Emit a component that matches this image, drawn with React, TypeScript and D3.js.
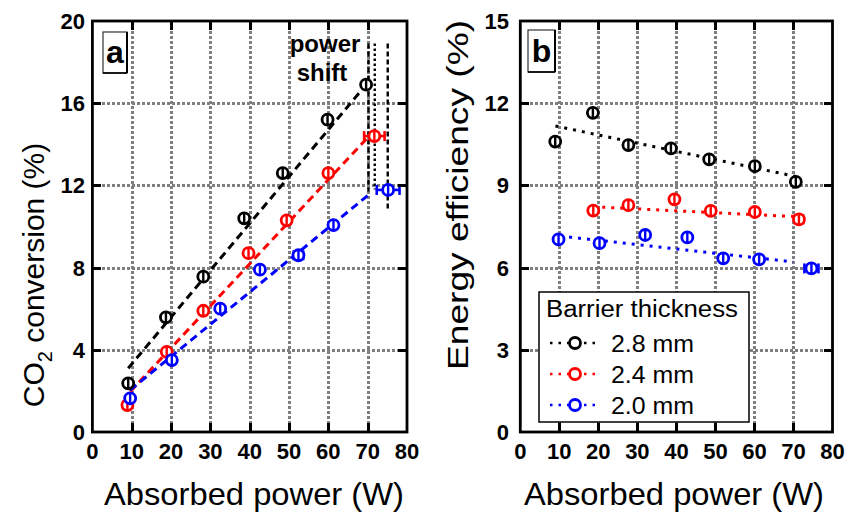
import React from "react";
import * as d3 from "d3";

// ---------- data ----------
const seriesNames = ["2.8 mm", "2.4 mm", "2.0 mm"];
const seriesColors = ["#000000", "#ff0000", "#0000ff"];

// Panel a: CO2 conversion (%)
const powerA28 = [9.1, 18.7, 28.2, 38.6, 48.4, 59.8, 69.6];
const convA28 = [2.37, 5.58, 7.56, 10.4, 12.6, 15.2, 16.9];
const xErrA28 = [0, 0, 0, 0, 0, 0, 0];
const powerA24 = [8.9, 18.9, 28.2, 39.7, 49.4, 60.0, 71.7];
const convA24 = [1.31, 3.9, 5.9, 8.7, 10.3, 12.6, 14.4];
const xErrA24 = [0, 0, 0, 0, 0, 0, 2.6];
const powerA20 = [9.6, 20.2, 32.5, 42.6, 52.4, 61.3, 75.2];
const convA20 = [1.64, 3.5, 6.0, 7.9, 8.6, 10.07, 11.78];
const xErrA20 = [0, 0, 0, 0, 1.2, 0, 2.9];

// Panel a fit lines
const fitA28x = [9.1, 69.6];
const fitA28y = [3.1, 16.9];
const fitA24x = [9.6, 70.6];
const fitA24y = [1.96, 14.45];
const fitA20x = [9.6, 70.6];
const fitA20y = [2.04, 11.6];

// Panel a "power shift" markers
const shiftX = [70.2, 71.8, 75.1];
const shiftTop = [18.9, 18.9, 18.9];
const shiftBottom = [11.7, 11.8, 10.8];

// Panel b: Energy efficiency (%)
const powerB28 = [8.95, 18.6, 27.7, 38.6, 48.4, 60.1, 70.6];
const effB28 = [10.6, 11.65, 10.47, 10.35, 9.95, 9.7, 9.13];
const xErrB28 = [0, 0, 0, 0, 0, 0, 0];
const powerB24 = [18.7, 27.7, 39.5, 48.8, 60.1, 71.4];
const effB24 = [8.08, 8.28, 8.49, 8.07, 8.03, 7.76];
const xErrB24 = [0, 0, 0, 0, 0, 1.1];
const powerB20 = [9.8, 20.3, 32.0, 42.8, 52.0, 61.2, 74.6];
const effB20 = [7.03, 6.89, 7.19, 7.1, 6.34, 6.3, 5.97];
const xErrB20 = [0, 0, 0, 0, 0.8, 0, 1.8];

const fitB28x = [9.0, 70.8];
const fitB28y = [11.17, 9.32];
const fitB24x = [18.7, 70.8];
const fitB24y = [8.22, 7.86];
const fitB20x = [10.2, 69.9];
const fitB20y = [7.15, 6.21];

const xTicks = [0, 10, 20, 30, 40, 50, 60, 70, 80];
const yTicksA = [0, 4, 8, 12, 16, 20];
const yTicksB = [0, 3, 6, 9, 12, 15];

const FONT = "'Liberation Sans', Arial, Helvetica, sans-serif";

const TOP = 21;
const BOTTOM = 432;
const A_L = 92.4;
const A_R = 407;
const B_L = 520.3;
const B_R = 832.5;

type Series = {
  x: number[];
  y: number[];
  xErr: number[];
  fitX: number[];
  fitY: number[];
  color: string;
};

type Frame = { left: number; right: number; yMax: number; yTicks: number[] };

const frames: Frame[] = [
  { left: A_L, right: A_R, yMax: 20, yTicks: yTicksA },
  { left: B_L, right: B_R, yMax: 15, yTicks: yTicksB },
];

const rnd = (v: number) => Math.round(v) + 0.5;

function gridPath(f: Frame): string {
  const x = d3.scaleLinear().domain([0, 80]).range([f.left, f.right]);
  const y = d3.scaleLinear().domain([0, f.yMax]).range([BOTTOM, TOP]);
  const p = d3.path();
  xTicks
    .filter((t) => t > 0 && t < 80)
    .forEach((t) => {
      p.moveTo(rnd(x(t)), TOP);
      p.lineTo(rnd(x(t)), BOTTOM);
    });
  f.yTicks
    .filter((t) => t > 0 && t < f.yMax)
    .forEach((t) => {
      p.moveTo(f.left, rnd(y(t)));
      p.lineTo(f.right, rnd(y(t)));
    });
  return p.toString();
}

function tickPath(f: Frame): string {
  const x = d3.scaleLinear().domain([0, 80]).range([f.left, f.right]);
  const y = d3.scaleLinear().domain([0, f.yMax]).range([BOTTOM, TOP]);
  const tl = 9;
  const p = d3.path();
  xTicks
    .filter((t) => t > 0 && t < 80)
    .forEach((t) => {
      p.moveTo(rnd(x(t)), TOP);
      p.lineTo(rnd(x(t)), TOP + tl);
      p.moveTo(rnd(x(t)), BOTTOM);
      p.lineTo(rnd(x(t)), BOTTOM - tl);
    });
  f.yTicks
    .filter((t) => t > 0 && t < f.yMax)
    .forEach((t) => {
      p.moveTo(f.left, rnd(y(t)));
      p.lineTo(f.left + tl, rnd(y(t)));
      p.moveTo(f.right, rnd(y(t)));
      p.lineTo(f.right - tl, rnd(y(t)));
    });
  return p.toString();
}

function Panel(props: {
  left: number;
  right: number;
  yMax: number;
  yTicks: number[];
  series: Series[];
  dash: string;
  yErr: number;
  letter: string;
  letterBox: [number, number, number, number];
  children?: React.ReactNode;
  yTickX: number;
}) {
  const { left, right, yMax, yTicks, series, dash, yErr } = props;
  const top = TOP;
  const bottom = BOTTOM;
  const x = d3.scaleLinear().domain([0, 80]).range([left, right]);
  const y = d3.scaleLinear().domain([0, yMax]).range([bottom, top]);
  const line = d3
    .line<[number, number]>()
    .x((d) => x(d[0]))
    .y((d) => y(d[1]));
  const [bx, by, bw, bh] = props.letterBox;

  return (
    <g>
      {series.map((s, i) => (
        <path
          key={"fit" + i}
          d={line(s.fitX.map((v, k) => [v, s.fitY[k]] as [number, number])) || ""}
          fill="none"
          stroke={s.color}
          strokeWidth={3}
          strokeDasharray={dash}
        />
      ))}
      {props.children}
      {series.map((s, i) => (
        <g key={"pts" + i}>
          {s.x.map((v, k) => {
            const cx = x(v);
            const cy = y(s.y[k]);
            const xe = s.xErr[k];
            return (
              <g key={k}>
                {xe > 0 && (
                  <g stroke={s.color} strokeWidth={2.6}>
                    <line x1={x(v - xe)} x2={x(v + xe)} y1={cy} y2={cy} />
                    <line x1={x(v - xe)} x2={x(v - xe)} y1={cy - 5} y2={cy + 5} />
                    <line x1={x(v + xe)} x2={x(v + xe)} y1={cy - 5} y2={cy + 5} />
                  </g>
                )}
                <circle cx={cx} cy={cy} r={5.5} fill="white" stroke={s.color} strokeWidth={2.8} />
                <line x1={cx} x2={cx} y1={y(s.y[k] + yErr)} y2={y(s.y[k] - yErr)} stroke={s.color} strokeWidth={2.4} />
              </g>
            );
          })}
        </g>
      ))}
      {xTicks.map((t) => (
        <text key={"lx" + t} x={x(t)} y={459} textAnchor="middle" fontFamily={FONT} fontWeight="bold" fontSize={22}>
          {t}
        </text>
      ))}
      {yTicks.map((t) => (
        <text key={"ly" + t} x={props.yTickX} y={y(t) + 8} textAnchor="end" fontFamily={FONT} fontWeight="bold" fontSize={22}>
          {t}
        </text>
      ))}
      <rect x={left} y={top} width={right - left} height={bottom - top} fill="none" stroke="#000" strokeWidth={2.8} />
      <rect x={bx} y={by} width={bw} height={bh} fill="white" stroke="#333" strokeWidth={1.2} />
      <line x1={bx + bw} x2={bx + bw} y1={by} y2={by + bh} stroke="#000" strokeWidth={2} />
      <line x1={bx} x2={bx + bw} y1={by + bh} y2={by + bh} stroke="#000" strokeWidth={1.6} />
      <text x={bx + bw / 2} y={by + bh - 10} textAnchor="middle" fontFamily={FONT} fontWeight="bold" fontSize={32}>
        {props.letter}
      </text>
    </g>
  );
}

export default function App() {
  const seriesA: Series[] = [
    { x: powerA28, y: convA28, xErr: xErrA28, fitX: fitA28x, fitY: fitA28y, color: seriesColors[0] },
    { x: powerA24, y: convA24, xErr: xErrA24, fitX: fitA24x, fitY: fitA24y, color: seriesColors[1] },
    { x: powerA20, y: convA20, xErr: xErrA20, fitX: fitA20x, fitY: fitA20y, color: seriesColors[2] },
  ];
  const seriesB: Series[] = [
    { x: powerB28, y: effB28, xErr: xErrB28, fitX: fitB28x, fitY: fitB28y, color: seriesColors[0] },
    { x: powerB24, y: effB24, xErr: xErrB24, fitX: fitB24x, fitY: fitB24y, color: seriesColors[1] },
    { x: powerB20, y: effB20, xErr: xErrB20, fitX: fitB20x, fitY: fitB20y, color: seriesColors[2] },
  ];

  const xA = d3.scaleLinear().domain([0, 80]).range([A_L, A_R]);
  const yA = d3.scaleLinear().domain([0, 20]).range([BOTTOM, TOP]);
  const shiftDash = ["5,3", "2.5,2.5", "5,3"];

  const legRows = [343, 374, 405];

  return (
    <svg width={850} height={512} style={{ display: "block", position: "absolute", left: 0, top: 0, background: "white" }}>
      {frames.map((f, i) => (
        <path
          key={"grid" + i}
          d={gridPath(f)}
          fill="none"
          stroke="#7f7f7f"
          strokeWidth={3}
          strokeDasharray="3,2"
          shapeRendering="crispEdges"
        />
      ))}
      <Panel
        left={A_L}
        right={A_R}
        yMax={20}
        yTicks={yTicksA}
        series={seriesA}
        dash="8,5"
        yErr={0.3}
        letter="a"
        letterBox={[103, 32, 24, 41]}
        yTickX={85}
      >
        {shiftX.map((v, i) => (
          <line
            key={"sh" + i}
            x1={xA(v)}
            x2={xA(v)}
            y1={yA(shiftTop[i])}
            y2={yA(shiftBottom[i])}
            stroke="#000"
            strokeWidth={2.4}
            strokeDasharray={shiftDash[i]}
          />
        ))}
        <text x={325} y={52} textAnchor="middle" fontFamily={FONT} fontWeight="bold" fontSize={24}>
          power
        </text>
        <text x={322} y={81} textAnchor="middle" fontFamily={FONT} fontWeight="bold" fontSize={24}>
          shift
        </text>
      </Panel>
      <Panel
        left={B_L}
        right={B_R}
        yMax={15}
        yTicks={yTicksB}
        series={seriesB}
        dash="3,6"
        yErr={0.22}
        letter="b"
        letterBox={[528, 30, 27, 42]}
        yTickX={509}
      >
        <rect x={539} y={292} width={210} height={130} fill="white" stroke="#000" strokeWidth={1.5} />
        <text x={546} y={317} fontFamily={FONT} fontSize={23} textLength={192} lengthAdjust="spacingAndGlyphs">
          Barrier thickness
        </text>
        {seriesNames.map((name, i) => (
          <g key={"leg" + i}>
            <line x1={550} x2={599} y1={legRows[i]} y2={legRows[i]} stroke={seriesColors[i]} strokeWidth={2.6} strokeDasharray="2.5,6" />
            <circle cx={575} cy={legRows[i]} r={5.5} fill="white" stroke={seriesColors[i]} strokeWidth={2.8} />
            <text x={611} y={legRows[i] + 9} fontFamily={FONT} fontSize={24} textLength={83} lengthAdjust="spacingAndGlyphs">
              {name}
            </text>
          </g>
        ))}
      </Panel>
      {frames.map((f, i) => (
        <path key={"ticks" + i} d={tickPath(f)} fill="none" stroke="#000" strokeWidth={3} shapeRendering="crispEdges" />
      ))}
      <text x={254} y={505} textAnchor="middle" fontFamily={FONT} fontSize={32} textLength={300} lengthAdjust="spacingAndGlyphs">
        Absorbed power (W)
      </text>
      <text x={674} y={505} textAnchor="middle" fontFamily={FONT} fontSize={32} textLength={300} lengthAdjust="spacingAndGlyphs">
        Absorbed power (W)
      </text>
      <text transform="translate(44,275) rotate(-90)" textAnchor="middle" fontFamily={FONT} fontSize={30}>
        CO
        <tspan fontSize={20} dy={8}>2</tspan>
        <tspan dy={-8}> conversion (%)</tspan>
      </text>
      <text
        transform="translate(468,195) rotate(-90)"
        textAnchor="middle"
        fontFamily={FONT}
        fontSize={29}
        textLength={350}
        lengthAdjust="spacingAndGlyphs"
      >
        Energy efficiency (%)
      </text>
    </svg>
  );
}
